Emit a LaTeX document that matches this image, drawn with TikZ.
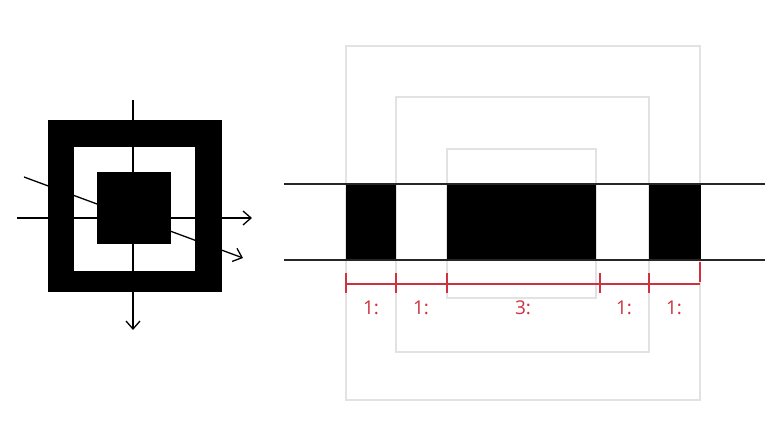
\documentclass[tikz,border=0pt]{standalone}
\usepackage{fontspec}
\setmainfont{Open Sans}
\usetikzlibrary{arrows.meta}
\definecolor{dimred}{RGB}{206,50,62}
\definecolor{guide}{RGB}{226,226,226}
\tikzset{
  ax/.style={line width=1.3pt, draw=black, -{Straight Barb[length=8pt,width=14pt,line width=1.3pt]}},
  guidebox/.style={draw=guide, line width=1.4pt},
  band/.style={line width=1.3pt, draw=black!85},
  blk/.style={fill=black},
  dim/.style={draw=dimred, line width=1.2pt},
  dimlab/.style={text=dimred, font=\fontsize{19}{22}\selectfont, inner sep=0pt},
}
\begin{document}
\begin{tikzpicture}[x=1pt,y=-1pt]
\useasboundingbox (0,0) rectangle (780,438);
% ---- left figure ----
\fill[black] (48,120) rectangle (222,292);
\fill[white] (74,147) rectangle (195,271);
\fill[black] (97,172) rectangle (171,244);
\coordinate (vt) at (133,100);
\coordinate (vb) at (133,330);
\coordinate (hl) at (17,218);
\coordinate (hr) at (252,218);
\coordinate (dl) at (24,177);
\coordinate (dr) at (243,258);
\draw[ax] (vt) -- (vb);
\draw[ax] (hl) -- (hr);
\draw[ax] (dl) -- (dr);
% ---- right figure ----
\draw[guidebox] (346,46) rectangle (700,400);
\draw[guidebox] (396,97) rectangle (649,352);
\draw[guidebox] (447,149) rectangle (596,298);
\fill[blk] (346,184) rectangle (396,260);
\fill[blk] (447,184) rectangle (596,260);
\fill[blk] (649,184) rectangle (701,260);
\coordinate (tl) at (284,184);
\coordinate (tr) at (765,184);
\coordinate (bl) at (284,260);
\coordinate (br) at (765,260);
\draw[band] (tl) -- (tr);
\draw[band] (bl) -- (br);
% dimension line
\coordinate (d0) at (346,284);
\coordinate (d5) at (700,284);
\draw[dim] (d0) -- (d5);
\foreach \x in {346,396,447,600,649}{
  \draw[dim] (\x,273) -- (\x,293);
}
\draw[dim] (700,262) -- (700,282);
\node[dimlab] (l1) at (371,308) {1:};
\node[dimlab] (l2) at (421,308) {1:};
\node[dimlab] (l3) at (523,308) {3:};
\node[dimlab] (l4) at (624,308) {1:};
\node[dimlab] (l5) at (674,308) {1:};
\end{tikzpicture}
\end{document}
